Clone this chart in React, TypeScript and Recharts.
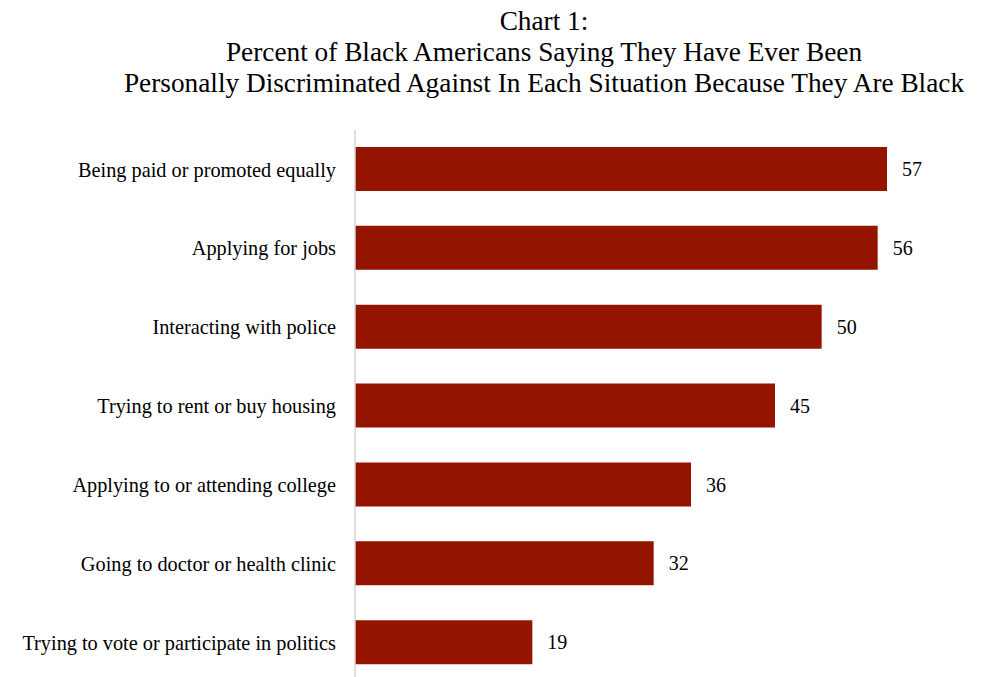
import { BarChart, Bar, XAxis, YAxis, LabelList } from 'recharts';

const situations = [
    'Being paid or promoted equally',
    'Applying for jobs',
    'Interacting with police',
    'Trying to rent or buy housing',
    'Applying to or attending college',
    'Going to doctor or health clinic',
    'Trying to vote or participate in politics',
];

const percents = [57, 56, 50, 45, 36, 32, 19];

const titleLines = [
    'Chart 1:',
    'Percent of Black Americans Saying They Have Ever Been',
    'Personally Discriminated Against In Each Situation Because They Are Black',
];

const data = situations.map((situation, i) => ({ situation, percent: percents[i] }));

const FONT = '"Liberation Serif", "Times New Roman", serif';

export default function App() {
    return (
        <div style={{ position: 'absolute', left: 0, top: 0, width: 982, height: 677, overflow: 'hidden', background: '#fff' }}>
            <div
                style={{
                    position: 'absolute',
                    left: 106,
                    top: 6,
                    width: 876,
                    textAlign: 'center',
                    fontFamily: FONT,
                    fontSize: 27.3,
                    lineHeight: '31px',
                    color: '#000',
                }}
            >
                {titleLines.map((line) => (
                    <div key={line}>{line}</div>
                ))}
            </div>
            <div style={{ position: 'absolute', left: 0, top: 0 }}>
                <BarChart
                    width={982}
                    height={682}
                    data={data}
                    layout="vertical"
                    margin={{ top: 130, right: 67, left: 0, bottom: 0 }}
                >
                    <XAxis type="number" domain={[0, 60]} hide />
                    <YAxis
                        type="category"
                        dataKey="situation"
                        width={355}
                        tickLine={false}
                        tickSize={0}
                        tickMargin={19}
                        axisLine={{ stroke: '#d4d4d4', strokeWidth: 1.5 }}
                        tick={{ fill: '#000', fontSize: 20.3, fontFamily: FONT }}
                        interval={0}
                    />
                    <Bar dataKey="percent" fill="#941400" barSize={44} isAnimationActive={false}>
                        <LabelList
                            dataKey="percent"
                            position="right"
                            offset={15}
                            style={{ fill: '#000', fontSize: 20, fontFamily: FONT }}
                        />
                    </Bar>
                </BarChart>
            </div>
        </div>
    );
}
